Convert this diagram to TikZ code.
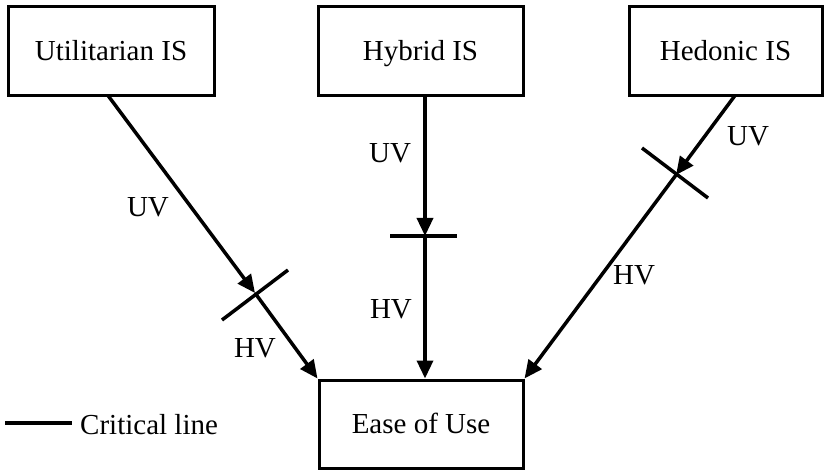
\documentclass[tikz,border=0pt]{standalone}
\usepackage{fontspec}
\setmainfont{Liberation Serif}
\usetikzlibrary{arrows.meta}
\tikzset{
  box/.style={draw, line width=3pt, inner sep=0pt, text height=19pt, text depth=0pt,
    font=\fontsize{29}{34}\selectfont},
  lbl/.style={inner sep=0pt, text height=19pt, text depth=0pt, font=\fontsize{29}{34}\selectfont},
  conn/.style={line width=3.5pt, -{Triangle[length=18pt,width=16pt]}},
  crit/.style={line width=3.5pt},
}
\begin{document}
\begin{tikzpicture}[x=1pt,y=-1pt]
\useasboundingbox (0,0) rectangle (827,470);
% boxes
\node[box, minimum width=206pt, minimum height=89pt] (u) at (111,51) {Utilitarian IS};
\node[box, minimum width=205pt, minimum height=89pt] (h) at (420.5,51) {Hybrid IS};
\node[box, minimum width=193pt, minimum height=89pt] (d) at (725.5,51) {Hedonic IS};
\node[box, minimum width=204pt, minimum height=88pt] (e) at (421,424) {Ease of Use};
% connection points
\coordinate (us) at (108,95.5);
\coordinate (hs) at (425,95.5);
\coordinate (ds) at (735,95.5);
\coordinate (he) at (425,378.5);
\coordinate (cu) at (255,293);
\coordinate (ch) at (425,236);
\coordinate (cd) at (676,175);
% critical lines
\coordinate (cu1) at (222,320);
\coordinate (cu2) at (288,270);
\coordinate (ch1) at (390,236);
\coordinate (ch2) at (457,236);
\coordinate (cd1) at (642,148);
\coordinate (cd2) at (708,198);
\draw[crit] (cu1) -- (cu2);
\draw[crit] (ch1) -- (ch2);
\draw[crit] (cd1) -- (cd2);
% arrows
\draw[conn] (us) -- (cu);
\draw[conn] (cu) -- (e.north west);
\draw[conn] (hs) -- (ch);
\draw[conn] (ch) -- (he);
\draw[conn] (ds) -- (cd);
\draw[conn] (cd) -- (e.north east);
% labels
\node[lbl] (l1) at (148,207) {UV};
\node[lbl] (l2) at (255,348) {HV};
\node[lbl] (l3) at (390,153) {UV};
\node[lbl] (l4) at (391,309) {HV};
\node[lbl] (l5) at (748,136) {UV};
\node[lbl] (l6) at (634,275) {HV};
% legend
\coordinate (lg1) at (5,423);
\coordinate (lg2) at (72,423);
\draw[crit] (lg1) -- (lg2);
\node[lbl, anchor=west] (lgt) at (80,425) {Critical line};
\end{tikzpicture}
\end{document}
